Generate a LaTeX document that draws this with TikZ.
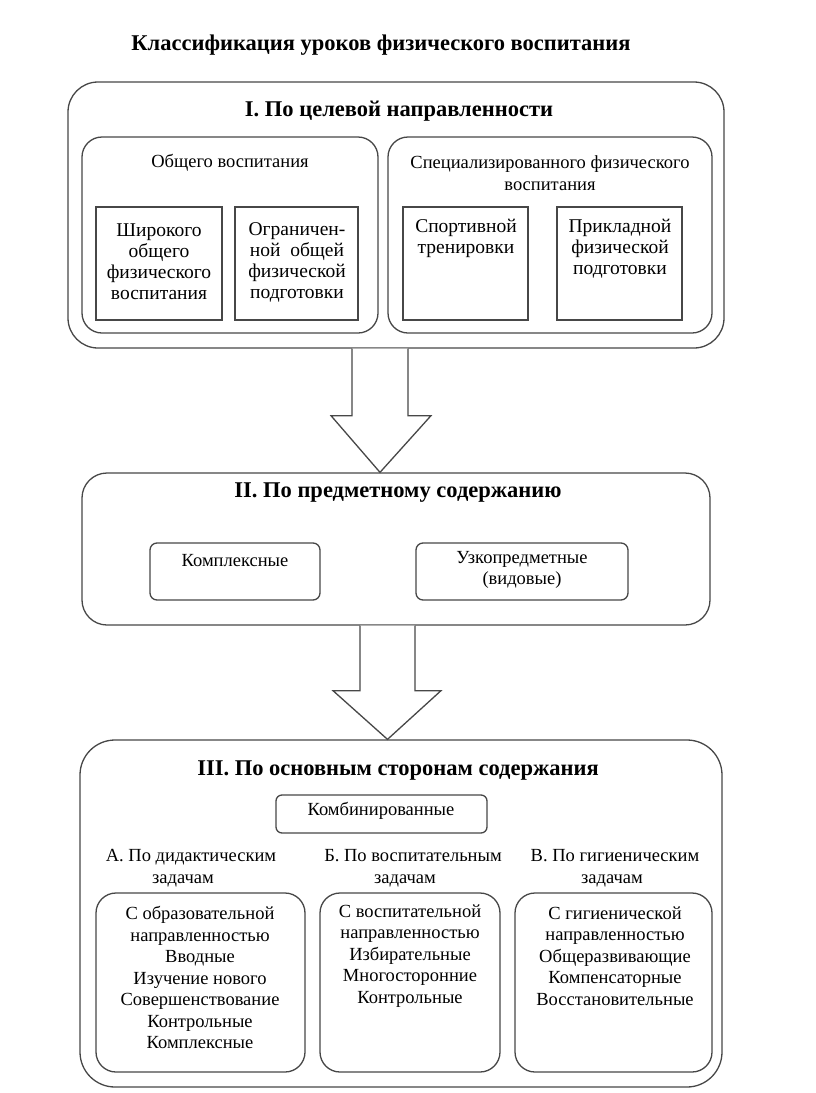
\documentclass[tikz,border=0pt]{standalone}
\usepackage{fontspec}
\setmainfont{Liberation Serif}
\usetikzlibrary{calc}
\begin{document}
\begin{tikzpicture}[x=1pt,y=-1pt,
  line/.style={draw=black!72,line width=1.3pt},
  bigbox/.style={line,rounded corners=30pt,inner sep=0pt},
  midbox/.style={line,rounded corners=20pt,inner sep=0pt},
  sqbox/.style={line,inner sep=0pt},
  smallbox/.style={line,rounded corners=7pt,inner sep=0pt},
  head/.style={font=\fontsize{22.5}{26}\selectfont\bfseries,inner sep=0pt},
  txt/.style={font=\fontsize{18.5}{21.5}\selectfont,align=center,inner sep=0pt},
  btxt/.style={font=\fontsize{19.5}{21}\selectfont,align=center,inner sep=0pt},
  blockarrow/.style={line,fill=white,line join=miter}]
\useasboundingbox (0,0) rectangle (816,1093);
% title
\node[head] (title) at (381,45) {Классификация уроков физического воспитания};
% Box I
\node[bigbox,minimum width=656pt,minimum height=266pt] (b1) at (396,215) {};
\node[head] (t1) at (399,111) {I. По целевой направленности};
\node[midbox,minimum width=296pt,minimum height=196pt] (b1a) at (230,235) {};
\node[midbox,minimum width=324pt,minimum height=196pt] (b1b) at (550,235) {};
\node[txt] (t1a) at (230,163) {Общего воспитания};
\node[txt] (t1b) at (550,173) {Специализированного физического\\воспитания};
\node[sqbox,minimum width=126pt,minimum height=113pt] (s1) at (159,263.5) {};
\node[sqbox,minimum width=123pt,minimum height=113pt] (s2) at (296.5,263.5) {};
\node[sqbox,minimum width=125pt,minimum height=113pt] (s3) at (465.5,263.5) {};
\node[sqbox,minimum width=125pt,minimum height=113pt] (s4) at (619.5,263.5) {};
\node[btxt] (s1t) at (159,262) {Широкого\\общего\\физического\\воспитания};
\node[btxt] (s2t) at (297,262) {Ограничен-\\ной\ \ общей\\физической\\подготовки};
\node[btxt] (s3t) at (466,238) {Спортивной\\тренировки};
\node[btxt] (s4t) at (620,249) {Прикладной\\физической\\подготовки};
% Box II
\node[bigbox,rounded corners=25pt,minimum width=628pt,minimum height=152pt] (b2) at (396,549) {};
\node[head] (t2) at (398,493) {II. По предметному содержанию};
\node[smallbox,minimum width=170pt,minimum height=57pt] (k1) at (235,571.5) {};
\node[smallbox,minimum width=212pt,minimum height=57pt] (k2) at (522,571.5) {};
\node[txt] (k1t) at (235,561) {Комплексные};
\node[txt] (k2t) at (522,570) {Узкопредметные\\(видовые)};
% arrow 1
\coordinate (a1) at (b1.south -| 380,0);
\draw[blockarrow] ($(a1)+(-28,0)$) -- ($(a1)+(-28,67)$) -- ($(a1)+(-49,67)$)
  -- (b2.north -| a1) -- ($(a1)+(51,67)$) -- ($(a1)+(28,67)$) -- ($(a1)+(28,0)$);
% Box III
\node[bigbox,rounded corners=35pt,minimum width=642pt,minimum height=347pt] (b3) at (401,913.5) {};
% arrow 2
\coordinate (a2) at (b2.south -| 387.5,0);
\draw[blockarrow] ($(a2)+(-27.5,0)$) -- ($(a2)+(-27.5,65)$) -- ($(a2)+(-54.5,65)$)
  -- (b3.north -| a2) -- ($(a2)+(53.5,65)$) -- ($(a2)+(27.5,65)$) -- ($(a2)+(27.5,0)$);
\node[head] (t3) at (398,771) {III. По основным сторонам содержания};
\node[smallbox,rounded corners=6pt,minimum width=211pt,minimum height=38pt] (komb) at (381.5,814) {};
\node[txt] (kombt) at (381,811) {Комбинированные};
\node[txt] (lA) at (191,868) {А. По дидактическим\\задачам\hspace*{16pt}};
\node[txt] (lB) at (413,868) {Б. По воспитательным\\задачам\hspace*{16pt}};
\node[txt] (lC) at (615,868) {В. По гигиеническим\\задачам\hspace*{6pt}};
\node[midbox,minimum width=209pt,minimum height=179pt] (cA) at (200.5,982.5) {};
\node[midbox,minimum width=180pt,minimum height=179pt] (cB) at (410,982.5) {};
\node[midbox,minimum width=197pt,minimum height=179pt] (cC) at (613.5,982.5) {};
\node[txt] (cAt) at (200,977.5) {С образовательной\\направленностью\\Вводные\\Изучение нового\\Совершенствование\\Контрольные\\Комплексные};
\node[txt] (cBt) at (410,956) {С воспитательной\\направленностью\\Избирательные\\Многосторонние\\Контрольные};
\node[txt] (cCt) at (615,956) {С гигиенической\\направленностью\\Общеразвивающие\\Компенсаторные\\Восстановительные};
\end{tikzpicture}
\end{document}
